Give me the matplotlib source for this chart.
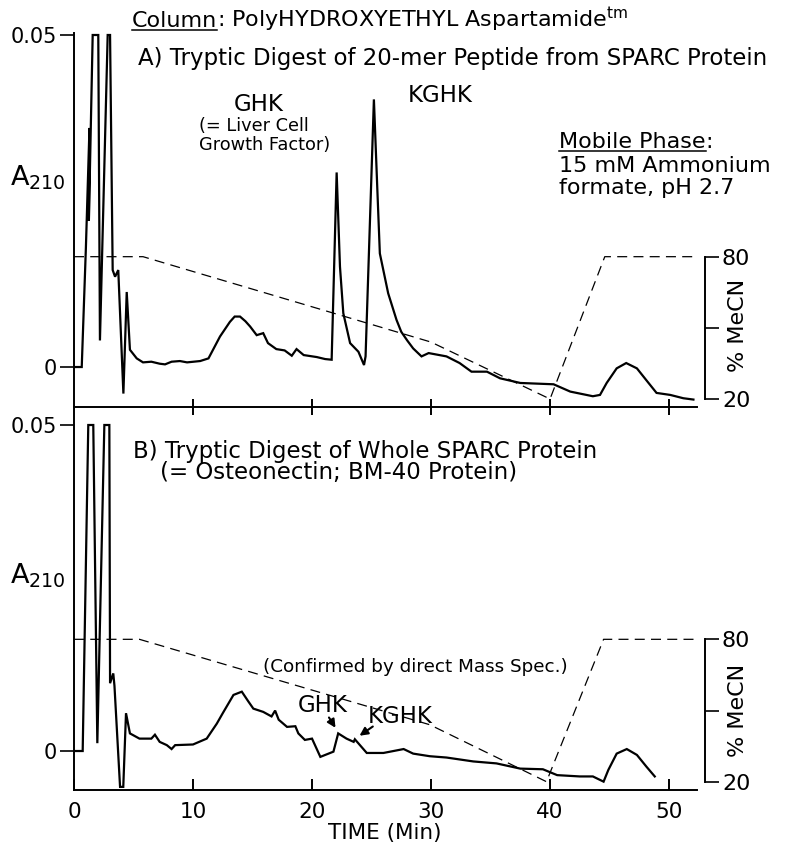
import matplotlib
matplotlib.use("Agg")
from matplotlib import pyplot as plt
from matplotlib.lines import Line2D

plt.rcParams['font.family'] = ['DejaVu Sans']
plt.rcParams['mathtext.fontset'] = 'custom'
plt.rcParams['mathtext.rm'] = 'DejaVu Sans'

# chromatogram A (20-mer peptide digest), time in min, absorbance at 210 nm
top_t = [0.0, 0.65, 1.0, 1.3, 1.25, 1.57, 2.04, 2.18, 2.83, 3.03,
         3.25, 3.45, 3.72, 4.15, 4.43, 4.7, 5.27, 5.8, 6.5, 7.2,
         7.65, 8.2, 8.9, 9.5, 10.6, 11.3, 12.27, 13.1, 13.5, 13.95,
         14.4, 14.8, 15.35, 15.9, 16.3, 17.0, 17.7, 18.3, 18.7, 19.3,
         20.4, 21.1, 21.65, 22.07, 22.35, 22.63, 23.2, 23.9, 24.37, 24.5,
         25.2, 25.49, 25.7, 26.4, 27.1, 27.5, 28.0, 28.5, 29.2, 29.8,
         31.3, 32.4, 33.4, 34.7, 35.8, 37.5, 40.3, 41.7, 43.6, 44.2,
         44.76, 45.6, 46.4, 47.3, 48.1, 48.95, 50.1, 51.2, 52.05]
top_a = [0, 0, 0.018, 0.036, 0.022, 0.05, 0.05, 0.004, 0.05, 0.05,
         0.0146, 0.0136, 0.0146, -0.004, 0.0113, 0.0026, 0.0013, 0.0007, 0.0008, 0.0005,
         0.0004, 0.0008, 0.0009, 0.0007, 0.0009, 0.0013, 0.0046, 0.0068, 0.0076, 0.0076,
         0.0069, 0.0061, 0.0048, 0.0051, 0.0036, 0.0027, 0.0025, 0.0017, 0.0027, 0.0018,
         0.0015, 0.0012, 0.0011, 0.0293, 0.0151, 0.0081, 0.0036, 0.0023, 0.0003, 0.0016,
         0.0403, 0.0267, 0.0171, 0.0111, 0.0071, 0.0053, 0.0040, 0.0028, 0.0016, 0.0021,
         0.0016, 0.0006, -0.0007, -0.0007, -0.0017, -0.0024, -0.0026, -0.0037, -0.0044, -0.0042,
         -0.0024, -0.0002, 0.0006, -0.0002, -0.002, -0.0039, -0.0042, -0.0047, -0.0049]

# chromatogram B (whole SPARC protein digest)
bot_t = [0.0, 0.73, 1.2, 1.62, 1.96, 2.55, 2.97, 3.03, 3.3, 3.4,
         3.87, 4.14, 4.37, 4.7, 5.5, 6.5, 6.8, 7.2, 7.8, 8.2,
         8.5, 10.0, 11.15, 12.0, 12.5, 13.4, 14.1, 14.65, 15.07, 15.9,
         16.6, 16.9, 17.2, 17.9, 18.6, 18.85, 19.4, 20.0, 20.7, 21.8,
         22.2, 22.9, 23.5, 23.6, 24.6, 26.0, 27.7, 28.5, 29.9, 31.3,
         33.55, 35.5, 37.5, 39.4, 40.6, 42.5, 43.6, 44.5, 44.9, 45.6,
         46.45, 47.3, 48.1, 48.8]
bot_a = [0, 0, 0.05, 0.05, 0.0012, 0.05, 0.05, 0.0104, 0.0119, 0.0100,
         -0.0055, -0.0055, 0.0058, 0.0027, 0.0019, 0.0019, 0.0025, 0.0014, 0.0009, 0.0003,
         0.0009, 0.001, 0.0019, 0.0042, 0.0058, 0.0086, 0.0091, 0.0076, 0.0065, 0.006,
         0.0053, 0.0062, 0.0048, 0.0037, 0.0038, 0.0027, 0.0017, 0.0019, -0.0009, -0.0001,
         0.0027, 0.0019, 0.0014, 0.0018, -0.0003, -0.0003, 0.0003, -0.0004, -0.0008, -0.001,
         -0.0016, -0.0019, -0.0027, -0.0028, -0.0037, -0.0039, -0.0039, -0.0047, -0.0029, -0.0004,
         0.0003, -0.0006, -0.0024, -0.0039]

# % MeCN gradient program
grad_top_t = [0, 5.8, 30.0, 40.0, 44.6, 52.3]
grad_bot_t = [0, 5.5, 29.9, 39.7, 44.5, 52.3]
grad_pct = [80, 80, 44, 20, 80, 80]

x_ticks = [0, 10, 20, 30, 40, 50]

W, H = 788, 844


def fx(x):
    return x / W


def fy(y):
    return 1 - y / H


fig = plt.figure(figsize=(W / 100, H / 100), dpi=100)
ax1 = fig.add_axes([fx(74), fy(407), (697 - 74) / W, (407 - 33) / H])
ax3 = fig.add_axes([fx(74), fy(790), (697 - 74) / W, (790 - 407) / H])

lw_trace = 1.6
lw_spine = 1.4

for ax, t, a, ylim in [(ax1, top_t, top_a, (-0.00602, 0.0503)),
                       (ax3, bot_t, bot_a, (-0.00598, 0.05276))]:
    ax.plot(t, a, color='k', lw=lw_trace, solid_joinstyle='miter')
    ax.set_xlim(0, 52.35)
    ax.set_ylim(*ylim)
    ax.spines['top'].set_visible(False)
    ax.spines['right'].set_visible(False)
    ax.spines['left'].set_linewidth(lw_spine)
    ax.spines['bottom'].set_linewidth(lw_spine)
    ax.set_yticks([0, 0.05])
    ax.set_yticklabels(['0', '0.05'])
    ax.tick_params(axis='y', direction='out', length=10, width=1.2,
                   labelsize=15, pad=2)
    ax.patch.set_alpha(0)

ax1.set_xticks(x_ticks[1:])
ax1.tick_params(axis='x', direction='inout', length=12, width=1.4,
                labelbottom=False)
ax3.set_xticks(x_ticks)
ax3.set_xticklabels([str(v) for v in x_ticks])
ax3.tick_params(axis='x', direction='in', length=8, width=1.4,
                labelsize=15.5, pad=9)
fig.text(fx(385), fy(839), 'TIME (Min)', fontsize=15.5, ha='center', va='baseline')

# gradient on right-hand axis
for ax, gt, ylim in [(ax1, grad_top_t, (16.63, 174.3)),
                     (ax3, grad_bot_t, (16.5, 177.9))]:
    tw = ax.twinx()
    tw.plot(gt, grad_pct, color='k', lw=0.9, dashes=(8, 5))
    tw.set_ylim(*ylim)
    for s in ['top', 'left', 'bottom']:
        tw.spines[s].set_visible(False)
    tw.spines['right'].set_position(('outward', 6))
    tw.spines['right'].set_bounds(20, 80)
    tw.spines['right'].set_linewidth(lw_spine)
    tw.set_yticks([20, 50, 80])
    tw.set_yticklabels(['20', '', '80'])
    tw.tick_params(axis='y', direction='out', length=10, width=1.2,
                   labelsize=16, pad=2)

fig.text(fx(738), fy(325), '% MeCN', rotation=90, ha='center', va='center', fontsize=16)
fig.text(fx(738), fy(710), '% MeCN', rotation=90, ha='center', va='center', fontsize=16)

# y-axis labels
for yb in [186, 583]:
    fig.text(fx(10), fy(yb), r'A$_{\mathrm{210}}$', fontsize=19.5, va='baseline')

# headings
r = fig.canvas.get_renderer()
t_col = fig.text(fx(132), fy(27), 'Column', fontsize=16, va='baseline')
bb = t_col.get_window_extent(r)
fig.text(bb.x1 / W, fy(27), ': PolyHYDROXYETHYL Aspartamide$^{\mathrm{tm}}$',
         fontsize=16, va='baseline')
fig.add_artist(Line2D([bb.x0 / W, bb.x1 / W], [fy(30), fy(30)],
                      transform=fig.transFigure, color='k', lw=1.1))

fig.text(fx(138), fy(65), 'A) Tryptic Digest of 20-mer Peptide from SPARC Protein',
         fontsize=16.5, va='baseline')
fig.text(fx(259), fy(111), 'GHK', fontsize=16.5, ha='center', va='baseline')
fig.text(fx(199), fy(131), '(= Liver Cell', fontsize=12.8, va='baseline')
fig.text(fx(199), fy(150), 'Growth Factor)', fontsize=12.8, va='baseline')
fig.text(fx(440), fy(102), 'KGHK', fontsize=16.5, ha='center', va='baseline')

t_mob = fig.text(fx(559), fy(148), 'Mobile Phase', fontsize=16, va='baseline')
bb = t_mob.get_window_extent(r)
fig.text(bb.x1 / W, fy(148), ':', fontsize=16, va='baseline')
fig.add_artist(Line2D([bb.x0 / W, bb.x1 / W], [fy(151), fy(151)],
                      transform=fig.transFigure, color='k', lw=1.1))
fig.text(fx(559), fy(172), '15 mM Ammonium', fontsize=16, va='baseline')
fig.text(fx(559), fy(194), 'formate, pH 2.7', fontsize=16, va='baseline')

fig.text(fx(133), fy(458), 'B) Tryptic Digest of Whole SPARC Protein',
         fontsize=16.5, va='baseline')
fig.text(fx(160), fy(479), '(= Osteonectin; BM-40 Protein)',
         fontsize=16.5, va='baseline')
fig.text(fx(263), fy(672), '(Confirmed by direct Mass Spec.)',
         fontsize=13.2, va='baseline')

fig.text(fx(298), fy(712), 'GHK', fontsize=16.5, va='baseline')
fig.text(fx(368), fy(723), 'KGHK', fontsize=16.5, va='baseline')

arrow = dict(arrowstyle='-|>', color='k', lw=1.5, mutation_scale=12)
ax3.annotate('', xy=(22.1, 0.0032), xytext=(21.3, 0.0055), arrowprops=arrow)
ax3.annotate('', xy=(23.8, 0.0021), xytext=(25.3, 0.0040), arrowprops=arrow)

fig.savefig('out.png', dpi=100)
